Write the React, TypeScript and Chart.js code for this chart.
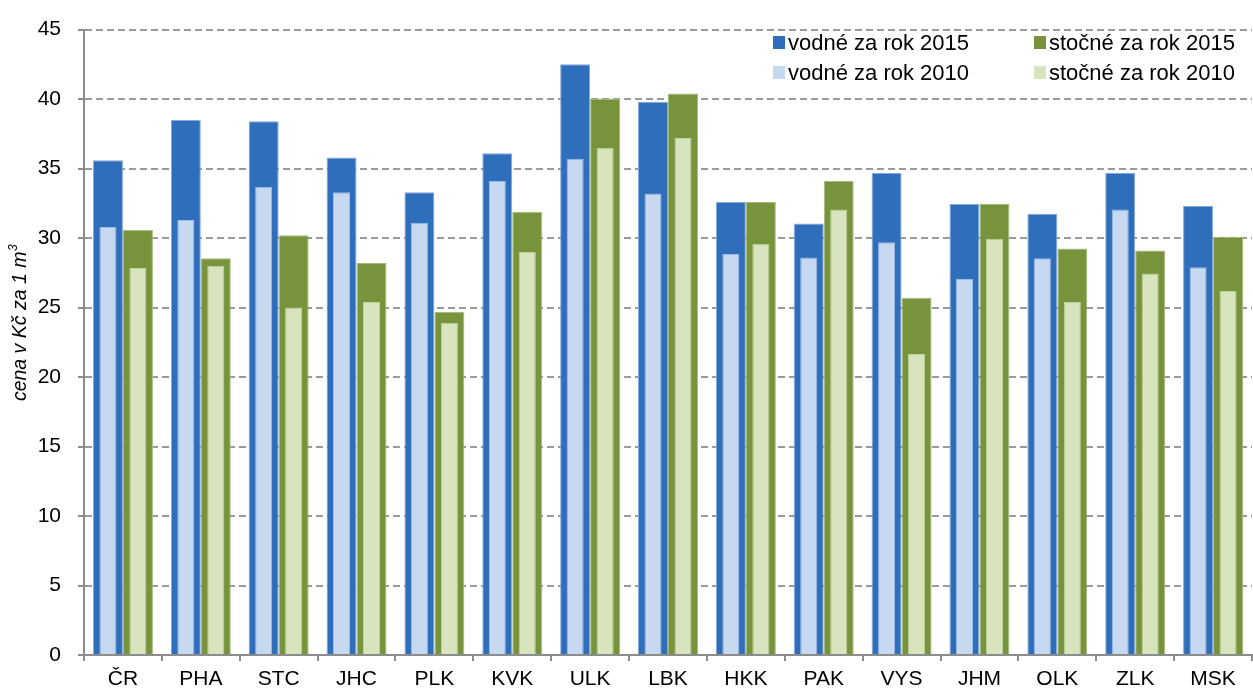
import React, { useEffect, useRef } from "react";
import { Chart, registerables } from "chart.js";

Chart.register(...registerables);

const categories = ["ČR", "PHA", "STC", "JHC", "PLK", "KVK", "ULK", "LBK", "HKK", "PAK", "VYS", "JHM", "OLK", "ZLK", "MSK"];
const vodne2015 = [35.6, 38.5, 38.4, 35.8, 33.3, 36.1, 42.5, 39.8, 32.6, 31.05, 34.7, 32.45, 31.75, 34.7, 32.3];
const vodne2010 = [30.8, 31.3, 33.7, 33.3, 31.1, 34.1, 35.7, 33.2, 28.85, 28.6, 29.7, 27.05, 28.55, 32.05, 27.9];
const stocne2015 = [30.6, 28.55, 30.2, 28.2, 24.7, 31.9, 40.0, 40.4, 32.6, 34.1, 25.7, 32.45, 29.25, 29.1, 30.1];
const stocne2010 = [27.85, 28.0, 25.0, 25.4, 23.9, 29.0, 36.5, 37.2, 29.6, 32.05, 21.65, 29.95, 25.4, 27.45, 26.2];

const seriesLabels = ["vodné za rok 2015", "stočné za rok 2015", "vodné za rok 2010", "stočné za rok 2010"];
const seriesColors = ["#2F6EBA", "#77933C", "#C6D9F1", "#D7E4BD"];
const seriesBorders = ["#86A9DC", "#A3BA78", "#9DBBE6", "#BFD29D"];
const axisTitle = "cena v Kč za 1 m";
const axisTitleSup = "3";

const FONT = "'Liberation Sans', Arial, sans-serif";

const legendPlugin = {
  id: "customLegend",
  afterDatasetsDraw(chart: any) {
    const ctx = chart.ctx;
    ctx.save();
    ctx.font = `22px ${FONT}`;
    ctx.textBaseline = "middle";
    ctx.textAlign = "left";
    const cols = [773, 1034];
    const rows = [42.5, 72.5];
    for (let i = 0; i < 4; i++) {
      const col = i % 2;
      const row = Math.floor(i / 2);
      const x = cols[col];
      const y = rows[row];
      ctx.fillStyle = seriesColors[i];
      ctx.fillRect(x, y - 6.5, 12, 13);
      ctx.fillStyle = "#000";
      ctx.fillText(seriesLabels[i], x + 15, y + 1);
    }
    ctx.restore();
  },
};

const titlePlugin = {
  id: "axisTitle",
  afterDraw(chart: any) {
    const ctx = chart.ctx;
    ctx.save();
    ctx.translate(21, 323);
    ctx.rotate(-Math.PI / 2);
    ctx.fillStyle = "#000";
    ctx.textBaseline = "middle";
    ctx.font = `italic 19.5px ${FONT}`;
    const w1 = ctx.measureText(axisTitle).width;
    ctx.font = `italic 12px ${FONT}`;
    const w2 = ctx.measureText(axisTitleSup).width;
    const start = -(w1 + w2) / 2;
    ctx.textAlign = "left";
    ctx.font = `italic 19.5px ${FONT}`;
    ctx.fillText(axisTitle, start, 0);
    ctx.font = `italic 12px ${FONT}`;
    ctx.fillText(axisTitleSup, start + w1 + 0.5, -7);
    ctx.restore();
  },
};

export default function App() {
  const ref = useRef<HTMLCanvasElement | null>(null);
  useEffect(() => {
    document.body.style.margin = "0";
    const canvas = ref.current!;
    const chart = new Chart(canvas, {
      type: "bar",
      data: {
        labels: categories,
        datasets: [
          { label: seriesLabels[0], data: vodne2015, backgroundColor: seriesColors[0], borderColor: seriesBorders[0], borderWidth: 1, stack: "v", order: 1, barPercentage: 1.0 },
          { label: seriesLabels[1], data: stocne2015, backgroundColor: seriesColors[1], borderColor: seriesBorders[1], borderWidth: 1, stack: "s", order: 1, barPercentage: 1.0 },
          { label: seriesLabels[2], data: vodne2010, backgroundColor: seriesColors[2], borderColor: seriesBorders[2], borderWidth: 1, stack: "v", order: 0, barPercentage: 0.57 },
          { label: seriesLabels[3], data: stocne2010, backgroundColor: seriesColors[3], borderColor: seriesBorders[3], borderWidth: 1, stack: "s", order: 0, barPercentage: 0.57 },
        ],
      },
      options: {
        animation: false,
        responsive: false,
        layout: { padding: { top: 23, right: 1, left: 0, bottom: 0 } },
        datasets: { bar: { categoryPercentage: 0.77 } },
        plugins: { legend: { display: false }, tooltip: { enabled: false } },
        scales: {
          x: {
            offset: true,
            grid: { display: true, drawOnChartArea: false, offset: true, tickLength: 6, color: "#8C8C8C", tickColor: "#8C8C8C", lineWidth: 2 },
            border: { display: true, color: "#8C8C8C", width: 2 },
            ticks: { color: "#000", font: { family: FONT, size: 21 }, padding: 6, maxRotation: 0, autoSkip: false },
            afterFit(scale: any) { scale.height = 33; },
          },
          y: {
            stacked: false,
            min: 0,
            max: 45,
            ticks: { stepSize: 5, color: "#000", font: { family: FONT, size: 21 }, padding: 17 },
            grid: { color: "#9A9A9A", lineWidth: 2, tickLength: 6, tickColor: "#8C8C8C" },
            border: { display: true, color: "#8C8C8C", width: 2, dash: [7, 4] },
            title: { display: false },
            afterFit(scale: any) { scale.width = 84; },
          },
        },
      },
      plugins: [legendPlugin, titlePlugin],
    } as any);
    return () => chart.destroy();
  }, []);
  return (
    <div style={{ width: 1253, height: 688 }}>
      <canvas ref={ref} width={1253} height={688} style={{ display: "block" }} />
    </div>
  );
}
